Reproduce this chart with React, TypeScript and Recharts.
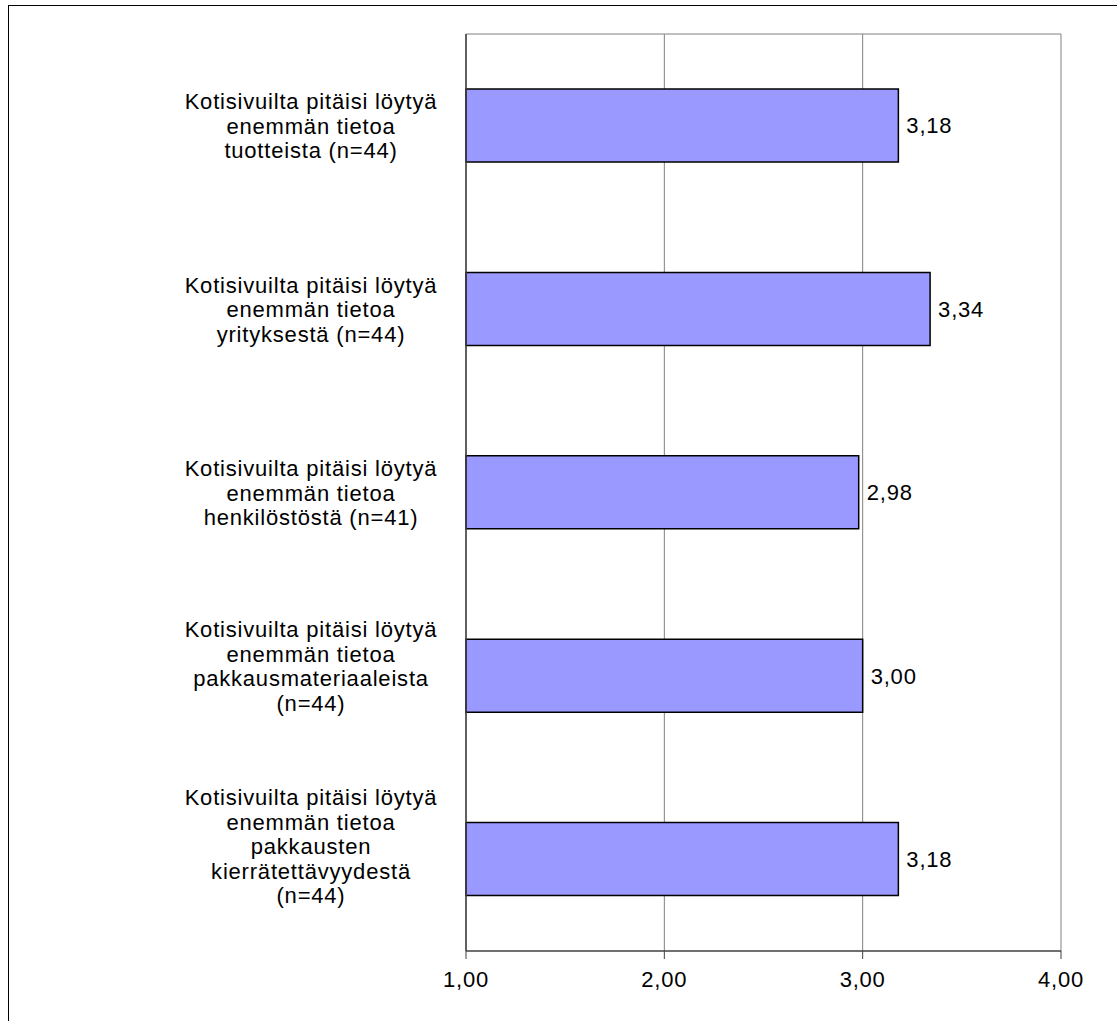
import { BarChart, Bar, XAxis, YAxis, CartesianGrid, LabelList } from 'recharts';

// Kysymykset (rivitetty kuten alkuperäisessä kuvassa)
const categoryLines: string[][] = [
  ['Kotisivuilta pitäisi löytyä', 'enemmän tietoa', 'tuotteista (n=44)'],
  ['Kotisivuilta pitäisi löytyä', 'enemmän tietoa', 'yrityksestä (n=44)'],
  ['Kotisivuilta pitäisi löytyä', 'enemmän tietoa', 'henkilöstöstä (n=41)'],
  ['Kotisivuilta pitäisi löytyä', 'enemmän tietoa', 'pakkausmateriaaleista', '(n=44)'],
  ['Kotisivuilta pitäisi löytyä', 'enemmän tietoa', 'pakkausten', 'kierrätettävyydestä', '(n=44)'],
];

// Keskiarvot
const values = [3.18, 3.34, 2.98, 3.0, 3.18];

const xTicks = [1, 2, 3, 4];

const data = categoryLines.map((lines, i) => ({ key: `q${i}`, value: values[i] }));

const FONT = '"Liberation Sans", Arial, sans-serif';
const FS = 22;
const LS = 0.8;
const fmt = (v: number) => v.toFixed(2).replace('.', ',');

// monirivinen kategoriateksti, keskitetty (pitkät tekstit hieman ylemmäs)
function CategoryTick(props: any) {
  const { x, y, index } = props;
  const lines = categoryLines[index] || [];
  const lh = 24.5;
  const lift = lines.length > 3 ? (lines.length === 4 ? 10 : 13) : 0;
  const startY = y - ((lines.length - 1) * lh) / 2 - lift;
  const cx = x - 147;
  return (
    <text x={cx} y={startY} textAnchor='middle' fontFamily={FONT} fontSize={FS} letterSpacing={LS} fill='#000' dominantBaseline='central'>
      {lines.map((l, i) => (
        <tspan key={i} x={cx} y={startY + i * lh}>
          {l}
        </tspan>
      ))}
    </text>
  );
}

export default function App() {
  return (
    <div
      style={{
        position: 'absolute',
        left: 8,
        top: 5,
        width: 1130,
        height: 1030,
        border: '1px solid #000',
        boxSizing: 'border-box',
        background: '#fff',
      }}
    >
      <BarChart
        width={1108}
        height={1010}
        data={data}
        layout='vertical'
        margin={{ top: 28, right: 56, left: 0, bottom: 15 }}
        barCategoryGap='30%'
      >
        <CartesianGrid
          stroke='#808080'
          strokeWidth={1}
          horizontalCoordinatesGenerator={({ offset }: any) => [offset.top]}
        />
        <XAxis
          type='number'
          domain={[1, 4]}
          ticks={xTicks}
          tickFormatter={fmt}
          axisLine={{ stroke: '#404040', strokeWidth: 1.5 }}
          tickLine={{ stroke: '#404040' }}
          tickSize={8}
          tickMargin={12}
          height={50}
          tick={{ fill: '#000', fontSize: FS, fontFamily: FONT, letterSpacing: LS }}
        />
        <YAxis
          type='category'
          dataKey='key'
          width={457}
          axisLine={{ stroke: '#404040', strokeWidth: 1.5 }}
          tickLine={false}
          tick={<CategoryTick />}
          interval={0}
        />
        <Bar dataKey='value' fill='#9999FF' stroke='#000' strokeWidth={1.5} isAnimationActive={false}>
          <LabelList
            dataKey='value'
            position='right'
            offset={8}
            formatter={(v: any) => fmt(Number(v))}
            fill='#000'
            fontSize={FS}
            fontFamily={FONT}
            letterSpacing={LS}
          />
        </Bar>
      </BarChart>
    </div>
  );
}
